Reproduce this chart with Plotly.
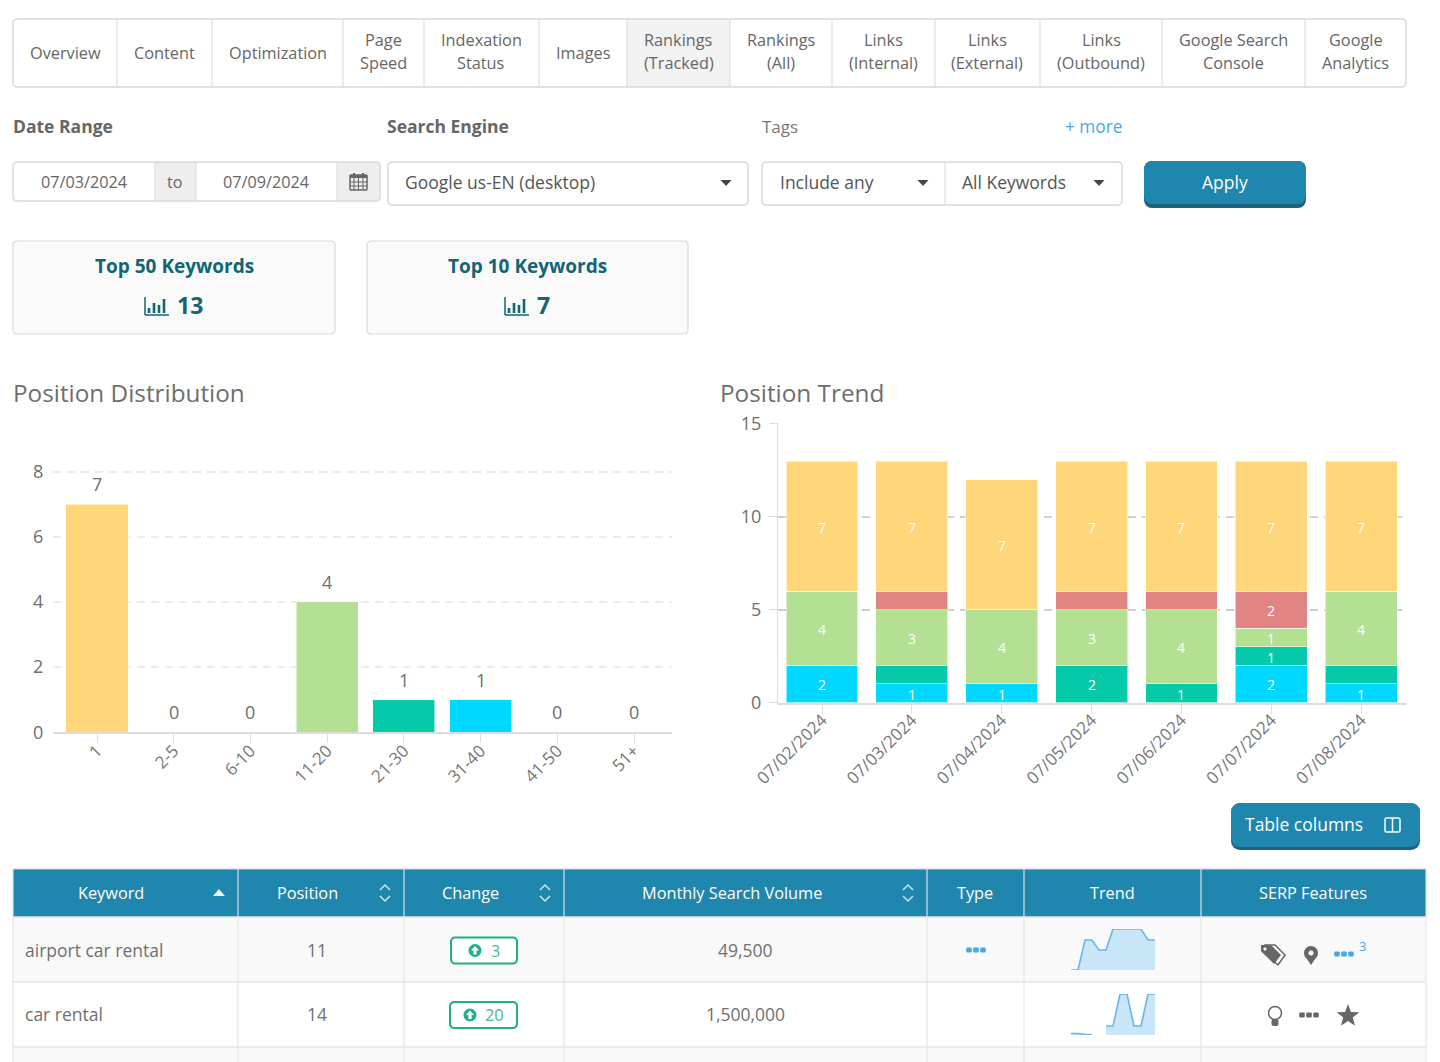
import math
import plotly.graph_objects as go

W, H = 1440, 1062
FONT = "Open Sans"
TXT = "#666666"
BLUE = "#1f86ad"
TEAL = "#126573"
GREEN = "#1fb08a"
LINK = "#45a9e6"
BORDER = "#d9d9d9"

# ---------- chart data ----------
dist_categories = ["1", "2-5", "6-10", "11-20", "21-30", "31-40", "41-50", "51+"]
dist_values = [7, 0, 0, 4, 1, 1, 0, 0]
dist_colors = ["#ffd679", "#ffd679", "#e08484", "#b4e094", "#05c9a9", "#00d8ff", "#00d8ff", "#00d8ff"]
dist_ticks = [0, 2, 4, 6, 8]

trend_dates = ["07/02/2024", "07/03/2024", "07/04/2024", "07/05/2024", "07/06/2024", "07/07/2024", "07/08/2024"]
trend_cyan = [2, 1, 1, 0, 0, 2, 1]
trend_teal = [0, 1, 0, 2, 1, 1, 1]
trend_green = [4, 3, 4, 3, 4, 1, 4]
trend_red = [0, 1, 0, 1, 1, 2, 0]
trend_yellow = [7, 7, 7, 7, 7, 7, 7]
label_cyan = ["2", "1", "1", "", "", "2", "1"]
label_teal = ["", "", "", "2", "1", "1", ""]
label_green = ["4", "3", "4", "3", "4", "1", "4"]
label_red = ["", "", "", "", "", "2", ""]
label_yellow = ["7", "7", "7", "7", "7", "7", "7"]
trend_ticks = [0, 5, 10, 15]

spark_a_x = [0, 1, 2, 3, 4, 5, 6, 7, 8, 9, 10, 11, 12]
spark_a = [0, 0, 30, 30, 20, 20, 41, 41, 41, 41, 41, 30, 30]
spark_b1_x = [0, 1, 2, 3]
spark_b1 = [1.5, 1.5, 0.5, 0.5]
spark_b2_x = [5, 6, 7, 8, 9, 10, 11, 12]
spark_b2 = [9, 9, 41, 41, 9, 9, 41, 41]

# ---------- page text data ----------
tab_edges = [13, 117, 212, 343, 424, 539, 627, 730, 832, 935, 1040, 1162, 1305, 1406]
tab_labels = [["Overview"], ["Content"], ["Optimization"], ["Page", "Speed"], ["Indexation", "Status"],
              ["Images"], ["Rankings", "(Tracked)"], ["Rankings", "(All)"], ["Links", "(Internal)"],
              ["Links", "(External)"], ["Links", "(Outbound)"], ["Google Search", "Console"], ["Google", "Analytics"]]
col_edges = [13, 238, 404, 564, 927, 1024, 1201, 1426]
col_labels = ["Keyword", "Position", "Change", "Monthly Search Volume", "Type", "Trend", "SERP Features"]
col_label_x = [111, 307, 470, 732, 975, 1112, 1313]
keywords = ["airport car rental", "car rental"]
positions = ["11", "14"]
changes = ["3", "20"]
volumes = ["49,500", "1,500,000"]

px = lambda x: x / W
py = lambda y: 1 - y / H
shapes, notes = [], []


def tx(text, x, y, size=16.3, color=TXT, anchor="center", bold=False, font=FONT):
    t = f"<b>{text}</b>" if bold else text
    if anchor == "left":
        x -= 2
    dy = 1 if size >= 17 else 0
    notes.append(dict(text=t, x=px(x), y=py(y - dy), xref="paper", yref="paper", showarrow=False,
                      xanchor=anchor, yanchor="middle", font=dict(family=font, size=size, color=color)))


def path(d, fill=None, line=None, lw=1):
    s = dict(type="path", path=d, xref="paper", yref="paper", layer="below",
             line=dict(color=line or "rgba(0,0,0,0)", width=lw if line else 0))
    if fill:
        s["fillcolor"] = fill
    shapes.append(s)


def poly(pts, fill=None, line=None, lw=1, close=True):
    d = "M " + " L ".join(f"{px(x):.5f},{py(y):.5f}" for x, y in pts) + (" Z" if close else "")
    path(d, fill, line, lw)


def rrect(x0, y0, x1, y1, r=0, fill=None, line=None, lw=1):
    pts = []
    if r == 0:
        pts = [(x0, y0), (x1, y0), (x1, y1), (x0, y1)]
    else:
        for cx, cy, a0 in [(x1 - r, y0 + r, -90), (x1 - r, y1 - r, 0), (x0 + r, y1 - r, 90), (x0 + r, y0 + r, 180)]:
            for k in range(5):
                a = math.radians(a0 + k * 22.5)
                pts.append((cx + r * math.cos(a), cy + r * math.sin(a)))
    poly(pts, fill, line, lw)


def circle(cx, cy, r, fill=None, line=None, lw=1):
    rrect(cx - r, cy - r, cx + r, cy + r, r, fill, line, lw)


def seg(x0, y0, x1, y1, color=BORDER, lw=1):
    poly([(x0, y0), (x1, y1)], None, color, lw, close=False)


def caret(x, y, s=5.5, color="#444444"):
    poly([(x - s, y - 3), (x + s, y - 3), (x, y + 3)], color)


def dots(x, y, color):
    for dx in (-7, 0, 7):
        rrect(x + dx - 2.8, y - 2.6, x + dx + 2.8, y + 2.6, 1.5, color)


def bars_icon(cx, cy):
    seg(cx - 12, cy - 9, cx - 12, cy + 9, TEAL, 1.5)
    seg(cx - 12, cy + 9, cx + 12, cy + 9, TEAL, 1.5)
    for dx, top in [(-8, 2), (-3, -3), (2, -1), (7, -7)]:
        rrect(cx + dx - 1.3, cy + top, cx + dx + 1.3, cy + 7, 0, TEAL)


def up_badge(x, y):
    circle(x, y, 6.5, GREEN)
    poly([(x, y - 4.5), (x + 4, y), (x + 1.6, y), (x + 1.6, y + 4), (x - 1.6, y + 4), (x - 1.6, y), (x - 4, y)], "#ffffff")


def chevrons(x, y):
    poly([(x - 5, y - 3), (x, y - 8), (x + 5, y - 3)], None, "#cfe3ec", 1.5, close=False)
    poly([(x - 5, y + 3), (x, y + 8), (x + 5, y + 3)], None, "#cfe3ec", 1.5, close=False)


# ---------- tabs ----------
rrect(627, 19, 730, 87, 0, "#f2f2f2")
rrect(13, 19, 1406, 87, 4, None, BORDER, 1.5)
for e in tab_edges[1:-1]:
    seg(e, 19, e, 87, BORDER, 1)
for i, lines in enumerate(tab_labels):
    c = (tab_edges[i] + tab_edges[i + 1]) / 2
    if len(lines) == 1:
        tx(lines[0], c, 53)
    else:
        tx(lines[0], c, 39.5)
        tx(lines[1], c, 62.5)

# ---------- filters ----------
tx("Date Range", 13, 127, 17.5, "#666666", "left", True)
tx("Search Engine", 387, 127, 17.5, "#666666", "left", True)
tx("Tags", 762, 127, 17, "#777777", "left")
tx("+ more", 1094, 127, 17.3, LINK)

rrect(155, 162, 196, 201, 0, "#eeeeee")
rrect(337, 162, 380, 201, 0, "#eeeeee")
rrect(13, 162, 380, 201, 4, None, BORDER, 1.5)
seg(155, 162, 155, 201)
seg(196, 162, 196, 201)
seg(337, 162, 337, 201)
tx("07/03/2024", 84, 182, 16.2)
tx("to", 175, 182, 16.2)
tx("07/09/2024", 266, 182, 16.2)
rrect(350, 175, 367, 190, 1, None, "#666666", 1.5)
rrect(350, 175, 367, 178, 0, "#666666")
for gx in (354, 358.5, 363):
    seg(gx, 178, gx, 190, "#666666", 1)
for gy in (182, 186):
    seg(350, gy, 367, gy, "#666666", 1)
seg(354, 173, 354, 176, "#666666", 2)
seg(363, 173, 363, 176, "#666666", 2)

rrect(388, 162, 748, 205, 4, "#ffffff", BORDER, 1.5)
tx("Google us-EN (desktop)", 405, 183, 17.5, "#555555", "left")
caret(726, 183)
rrect(762, 162, 1122, 205, 4, "#ffffff", BORDER, 1.5)
seg(945, 162, 945, 205)
tx("Include any", 780, 183, 17.5, "#555555", "left")
caret(923, 183)
tx("All Keywords", 962, 183, 17.5, "#555555", "left")
caret(1099, 183)
rrect(1144, 161, 1306, 208, 8, "#1a6480")
rrect(1144, 161, 1306, 204, 8, BLUE)
tx("Apply", 1225, 183, 17.5, "#ffffff")

# ---------- cards ----------
rrect(13, 241, 335, 334, 4, "#fafafa", BORDER, 1.2)
rrect(367, 241, 688, 334, 4, "#fafafa", BORDER, 1.2)
tx("Top 50 Keywords", 174, 267, 19, TEAL, bold=True)
tx("Top 10 Keywords", 527, 267, 19, TEAL, bold=True)
bars_icon(157, 306)
tx("13", 190, 306, 23, TEAL, bold=True)
bars_icon(517, 306)
tx("7", 543, 306, 23, TEAL, bold=True)

# ---------- chart titles ----------
tx("Position Distribution", 13, 393, 24.3, "#6e6e6e", "left")
tx("Position Trend", 720, 393, 24.3, "#6e6e6e", "left")

# ---------- table columns button ----------
rrect(1231, 803, 1420, 850, 9, "#1a6480")
rrect(1231, 803, 1420, 847, 9, BLUE)
tx("Table columns", 1304, 825, 17.5, "#ffffff")
rrect(1385, 818, 1400, 832, 1.5, None, "#ffffff", 1.5)
seg(1392.5, 818, 1392.5, 832, "#ffffff", 1.5)

# ---------- table ----------
rrect(13, 869, 1426, 917, 0, BLUE)
rrect(13, 917, 1426, 982, 0, "#f9f9f9")
rrect(13, 1047, 1426, 1062, 0, "#f9f9f9")
for i, c in enumerate(col_edges):
    seg(c, 869, c, 917, "#d5e3ea", 1.2)
    seg(c, 917, c, 1062, "#e4e4e4", 1.2)
seg(13, 869, 1426, 869, "#d5d5d5", 1)
for yy in (917, 982, 1047):
    seg(13, yy, 1426, yy, "#e4e4e4", 1.5)
for lab, lx in zip(col_labels, col_label_x):
    tx(lab, lx, 893, 16.3, "#ffffff")
poly([(213, 896), (225, 896), (219, 889)], "#eaf3f7")
chevrons(385, 893)
chevrons(545, 893)
chevrons(908, 893)

row_y = [950.5, 1015]
badges = [(451, 517, 475, 495), (450, 517, 470, 494)]
for i, ry in enumerate(row_y):
    tx(keywords[i], 25, ry, 17.5, "#6f6f6f", "left")
    tx(positions[i], 317, ry, 17.5, "#6f6f6f")
    tx(volumes[i], 745, ry, 17.5, "#6f6f6f")
    b0, b1, ic, tc = badges[i]
    rrect(b0, ry - 13, b1, ry + 13, 4, "#ffffff", GREEN, 2)
    up_badge(ic, ry)
    tx(changes[i], tc, ry, 16.3, "#45b899")

dots(976, 950, LINK)
# SERP feature icons, row 1
G = "#666666"
poly([(1265, 945), (1275, 945), (1285, 955), (1278, 965), (1262, 951), (1262, 947)], None, G, 1.5)
poly([(1261, 945), (1271, 945), (1281, 955), (1274, 964), (1261, 951)], G)
circle(1265, 949, 1.6, "#f9f9f9")
circle(1311, 953, 7, G)
poly([(1305, 956), (1317, 956), (1311, 965)], G)
circle(1311, 953, 2.6, "#f9f9f9")
dots(1344, 954, LINK)
tx("3", 1362, 946, 13, LINK)
# row 2
circle(1275, 1013, 6.5, "#ffffff", G, 1.5)
rrect(1271.5, 1019, 1278.5, 1026, 2, G)
dots(1309, 1015, G)
star = []
for k in range(10):
    r = 12 if k % 2 == 0 else 5
    a = math.radians(-90 + k * 36)
    star.append((1348 + r * math.cos(a), 1016 + r * math.sin(a)))
poly(star, G)

# ---------- figure ----------
fig = go.Figure()
line_light = dict(color="rgba(255,255,255,0.55)", width=1)
fig.add_bar(x=dist_categories, y=dist_values, xaxis="x", yaxis="y", width=0.81,
            marker=dict(color=dist_colors, line=line_light), showlegend=False)

base = [0] * len(trend_dates)
for vals, labels, col in [(trend_cyan, label_cyan, "#00d8ff"), (trend_teal, label_teal, "#05c9a9"),
                          (trend_green, label_green, "#b4e094"), (trend_red, label_red, "#e08484"),
                          (trend_yellow, label_yellow, "#ffd679")]:
    fig.add_bar(x=trend_dates, y=vals, xaxis="x2", yaxis="y2", width=0.8,
                marker=dict(color=col, line=line_light), showlegend=False)
    for i, (v, lab) in enumerate(zip(vals, labels)):
        if lab:
            notes.append(dict(text=lab, x=i, y=base[i] + v / 2, xref="x2", yref="y2", showarrow=False,
                              yshift=-1, yanchor="middle", font=dict(family=FONT, size=14, color="#ffffff")))
        base[i] += v

for sx, sy, ax_x, ax_y in [(spark_a_x, spark_a, "x3", "y3"), (spark_b1_x, spark_b1, "x4", "y4"),
                           (spark_b2_x, spark_b2, "x4", "y4")]:
    fig.add_scatter(x=sx, y=sy, xaxis=ax_x, yaxis=ax_y, mode="lines", fill="tozeroy",
                    fillcolor="#c9e5f8", line=dict(color="#68b7ea", width=1.6), showlegend=False)

for i, v in enumerate(dist_values):
    notes.append(dict(text=str(v), x=i, y=v, xref="x", yref="y", yshift=20, showarrow=False,
                      yanchor="middle", font=dict(family=FONT, size=18, color="#6e6e6e")))

tickf = dict(family=FONT, size=18, color="#6e6e6e")
xf = dict(family=FONT, size=17, color="#777777")
dom_x = lambda a, b: [px(a), px(b)]
dom_y = lambda top, bot: [py(bot), py(top)]
fig.update_layout(
    width=W, height=H, margin=dict(l=0, r=0, t=0, b=0, pad=0), autosize=False,
    paper_bgcolor="#ffffff", plot_bgcolor="rgba(0,0,0,0)", barmode="stack", bargap=0.2,
    shapes=shapes, annotations=notes, hovermode=False,
    xaxis=dict(domain=dom_x(53, 672), anchor="y", type="category", range=[-0.574, 7.495], automargin=False,
               tickangle=-45, tickfont=xf, ticks="outside", ticklen=9, tickcolor="#dddddd",
               ticklabelstandoff=-9,
               showline=True, linecolor="#dddddd", linewidth=2, showgrid=False, fixedrange=True),
    yaxis=dict(domain=dom_y(470, 732.3), anchor="x", range=[0, 8.05], tickvals=dist_ticks, automargin=False,
               tickfont=tickf, ticks="outside", ticklen=8, tickcolor="rgba(0,0,0,0)",
               ticklabelstandoff=-3,
               showgrid=True, gridcolor="#ebebeb", griddash="8px,6px", gridwidth=1.5, zeroline=False,
               showline=False, fixedrange=True),
    xaxis2=dict(domain=dom_x(778, 1407), anchor="y2", type="category", range=[-0.49, 6.51], automargin=False,
                tickangle=-45, tickfont=xf, ticks="outside", ticklen=9, tickcolor="#dddddd",
                ticklabelstandoff=-10,
                showline=True, linecolor="#dddddd", linewidth=2, showgrid=False, fixedrange=True),
    yaxis2=dict(domain=dom_y(423, 702.5), anchor="x2", range=[0, 15.05], tickvals=trend_ticks, automargin=False,
                tickfont=tickf, ticks="outside", ticklen=8, tickcolor="#dddddd",
                ticklabelstandoff=4,
                showline=True, linecolor="#dddddd", linewidth=1,
                showgrid=True, gridcolor="#cfcfcf", griddash="8px,6px", gridwidth=1.5, zeroline=False,
                fixedrange=True),
    xaxis3=dict(domain=dom_x(1071, 1155), anchor="y3", range=[0, 12], visible=False, fixedrange=True, automargin=False),
    yaxis3=dict(domain=dom_y(929, 970), anchor="x3", range=[0, 41], visible=False, fixedrange=True, automargin=False),
    xaxis4=dict(domain=dom_x(1071, 1155), anchor="y4", range=[0, 12], visible=False, fixedrange=True, automargin=False),
    yaxis4=dict(domain=dom_y(994, 1035), anchor="x4", range=[0, 41], visible=False, fixedrange=True, automargin=False),
)

fig.write_html("out.html", config=dict(displayModeBar=False),
               post_script="document.body.style.margin='0';")
